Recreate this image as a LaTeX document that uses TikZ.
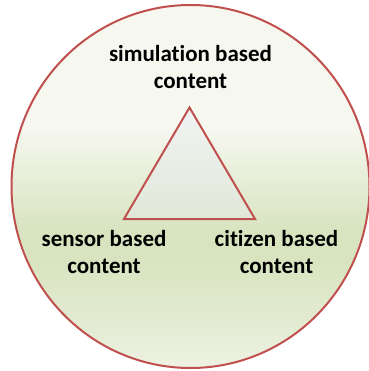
\documentclass[tikz,border=0pt]{standalone}
\usepackage{fontspec}
\setmainfont{Carlito}[Ligatures=NoCommon]
\usetikzlibrary{shadings}
\definecolor{ringred}{HTML}{C0504D}
\definecolor{bgtop}{HTML}{F6F7EF}
\definecolor{bgmid}{HTML}{D8E4C0}
\definecolor{bgbot}{HTML}{EEF2E3}
\definecolor{tritop}{HTML}{F1F3F3}
\definecolor{tribot}{HTML}{E0E8D8}
\pgfdeclareverticalshading{discshade}{100bp}{%
  color(0bp)=(bgbot); color(25bp)=(bgbot); color(32bp)=(bgmid!55!bgbot);
  color(40bp)=(bgmid); color(44bp)=(bgmid); color(58bp)=(bgtop);
  color(75bp)=(bgtop); color(100bp)=(bgtop)}
\pgfdeclareverticalshading{trishade}{100bp}{%
  color(0bp)=(tribot); color(25bp)=(tribot); color(75bp)=(tritop); color(100bp)=(tritop)}
\tikzset{
  ring/.style={draw=ringred, line width=2pt, shading=discshade},
  tri/.style={draw=ringred, line width=2pt, line join=miter, shading=trishade},
  lbl/.style={font=\fontsize{23}{27}\selectfont\bfseries, align=center, inner sep=0pt, text=black}
}
\begin{document}
\begin{tikzpicture}[x=1pt,y=-1pt]
\useasboundingbox (0,0) rectangle (368,371);
\path[ring] (190.5,186.5) ellipse [x radius=179, y radius=181.5];
\coordinate (apex) at (189.5,107.5);
\coordinate (bl) at (124,219);
\coordinate (br) at (255,219);
\path[tri] (apex) -- (bl) -- (br) -- cycle;
\node[lbl, anchor=north] (sim) at (190.5,45) {simulation based\\content};
\node[lbl, anchor=north] (sen) at (104,230) {sensor based\\content};
\node[lbl, anchor=north] (cit) at (276.5,230) {citizen based\\content};
\end{tikzpicture}
\end{document}
